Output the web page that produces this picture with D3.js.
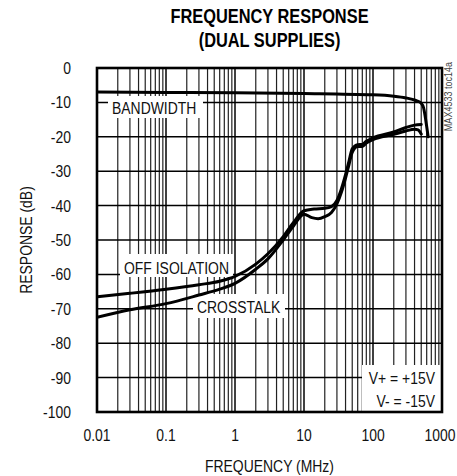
<!DOCTYPE html>
<html><head><meta charset="utf-8">
<script src="https://cdn.jsdelivr.net/npm/d3@7"></script>
<style>
html,body{margin:0;padding:0;background:#fff;}
svg text{font-family:"Liberation Sans",Arial,sans-serif;}
</style></head>
<body>
<svg id="chart" width="457" height="476"></svg>
<script>
const titleLines = ["FREQUENCY RESPONSE", "(DUAL SUPPLIES)"];
const xTicks = [0.01, 0.1, 1, 10, 100, 1000];
const xTickLabels = ["0.01", "0.1", "1", "10", "100", "1000"];
const yTicks = [0, -10, -20, -30, -40, -50, -60, -70, -80, -90, -100];
const yTickLabels = ["0", "-10", "-20", "-30", "-40", "-50", "-60", "-70", "-80", "-90", "-100"];

const bwFreq = [0.01, 0.1, 1, 10, 100, 200, 300, 400, 450, 500, 540, 570, 600, 630];
const bwDb   = [-7.0, -7.1, -7.2, -7.4, -7.8, -8.2, -8.7, -9.3, -9.7, -10.3, -11.5, -14, -17, -20];

const offFreq = [0.01, 0.03, 0.1, 0.3, 0.6, 1, 2, 3, 5, 7, 10, 14, 20, 25, 30, 35, 40, 45, 50, 60, 70, 80, 100, 200, 300, 400, 500];
const offDb   = [-66.5, -65.5, -64.3, -63.0, -62.0, -60.6, -57.0, -54.0, -49.0, -45.0, -41.5, -41.0, -40.8, -40.3, -38.5, -35, -31, -27, -23.5, -22.3, -22.2, -21.3, -20.3, -18.6, -17.3, -16.6, -16.4];

const xtFreq = [0.01, 0.03, 0.1, 0.3, 0.6, 1, 2, 3, 5, 7, 10, 13, 16, 20, 25, 30, 35, 40, 45, 50, 60, 70, 80, 100, 200, 300, 400, 450, 500];
const xtDb   = [-72.5, -70.3, -68.5, -66.0, -64.3, -62.6, -58.5, -55.5, -50, -46, -42.5, -43.5, -43.8, -43.2, -42, -39.5, -36, -32, -28, -24.5, -22.8, -22.8, -21.8, -20.8, -19.3, -18.3, -17.8, -18.0, -19.2];

const seriesLabels = ["BANDWIDTH", "OFF ISOLATION", "CROSSTALK"];
const supplyLabels = ["V+ = +15V", "V- = -15V"];
const xTitle = "FREQUENCY (MHz)";
const yTitle = "RESPONSE (dB)";
const figId = "MAX4533 toc14a";

const svg = d3.select("#chart");
const L = 97, R = 442, T = 68, B = 412;
const SX = 0.82; // horizontal condensing to mimic a narrow face
const x = d3.scaleLog().domain([0.01, 1000]).range([L, R]);
const y = d3.scaleLinear().domain([-100, 0]).range([B, T]);
const tf = (px, py, rot) => `translate(${px},${py})` + (rot ? ` rotate(${rot})` : "") + ` scale(${SX},1)`;

// title
svg.selectAll("text.title").data(titleLines).join("text")
  .attr("transform", (d, i) => tf((L + R) / 2, 23 + i * 24))
  .attr("text-anchor", "middle").attr("font-size", 20).attr("font-weight", "bold")
  .text(d => d);

// grid
const minor = [];
for (let e = -2; e < 3; e++) for (let m = 2; m <= 9; m++) minor.push(m * Math.pow(10, e));
const g = svg.append("g");
g.selectAll("line.vm").data(minor).join("line")
  .attr("x1", d => x(d)).attr("x2", d => x(d)).attr("y1", T).attr("y2", B)
  .attr("stroke", "#222").attr("stroke-width", 1.2);
g.selectAll("line.vM").data(xTicks.slice(1, -1)).join("line")
  .attr("x1", d => x(d)).attr("x2", d => x(d)).attr("y1", T).attr("y2", B)
  .attr("stroke", "#000").attr("stroke-width", 1.5);
g.selectAll("line.h").data(yTicks.slice(1, -1)).join("line")
  .attr("x1", L).attr("x2", R).attr("y1", d => y(d)).attr("y2", d => y(d))
  .attr("stroke", "#000").attr("stroke-width", 1.5);

// label boxes (white) over the grid
const boxes = [
  {x: 108, y: 96, w: 95, h: 22},
  {x: 120, y: 254, w: 113, h: 23},
  {x: 193, y: 294, w: 92, h: 24},
  {x: 362, y: 365, w: 80, h: 47}
];
svg.selectAll("rect.lb").data(boxes).join("rect")
  .attr("x", d => d.x).attr("y", d => d.y).attr("width", d => d.w).attr("height", d => d.h)
  .attr("fill", "#fff");

// curves
svg.append("clipPath").attr("id", "clip").append("rect")
  .attr("x", L).attr("y", T).attr("width", R - L).attr("height", B - T);
const line = d3.line().x(d => x(d[0])).y(d => y(d[1])).curve(d3.curveMonotoneX);
const series = [d3.zip(bwFreq, bwDb), d3.zip(offFreq, offDb), d3.zip(xtFreq, xtDb)];
svg.append("g").attr("clip-path", "url(#clip)").selectAll("path").data(series).join("path")
  .attr("d", line).attr("fill", "none").attr("stroke", "#000").attr("stroke-width", 3)
  .attr("stroke-linejoin", "round").attr("stroke-linecap", "round");

// border
svg.append("rect").attr("x", L).attr("y", T).attr("width", R - L).attr("height", B - T)
  .attr("fill", "none").attr("stroke", "#000").attr("stroke-width", 2.6);

// series labels
const labPos = [[112, 114], [124, 274], [197, 313]];
svg.selectAll("text.sl").data(seriesLabels).join("text")
  .attr("transform", (d, i) => tf(labPos[i][0], labPos[i][1]))
  .attr("font-size", 17).attr("fill", "#111").text(d => d);

svg.selectAll("text.sup").data(supplyLabels).join("text")
  .attr("transform", (d, i) => tf(435, 384 + i * 22.5)).attr("text-anchor", "end")
  .attr("font-size", 17).attr("fill", "#111").text(d => d);

// axes labels
svg.selectAll("text.xt").data(xTicks).join("text")
  .attr("transform", d => tf(Math.min(x(d), 440), 441)).attr("text-anchor", "middle")
  .attr("font-size", 17).attr("fill", "#111").text((d, i) => xTickLabels[i]);
svg.selectAll("text.yt").data(yTicks).join("text")
  .attr("transform", d => tf(71, y(d) + 6)).attr("text-anchor", "end")
  .attr("font-size", 17).attr("fill", "#111").text((d, i) => yTickLabels[i]);

svg.append("text").attr("transform", tf((L + R) / 2, 472)).attr("text-anchor", "middle")
  .attr("font-size", 17).attr("fill", "#111").text(xTitle);
svg.append("text").attr("transform", tf(32, (T + B) / 2, -90))
  .attr("text-anchor", "middle").attr("font-size", 17).attr("fill", "#111").text(yTitle);
svg.append("text").attr("transform", tf(452, 62, -90))
  .attr("text-anchor", "end").attr("font-size", 11).attr("fill", "#444").text(figId);
</script>
</body></html>
